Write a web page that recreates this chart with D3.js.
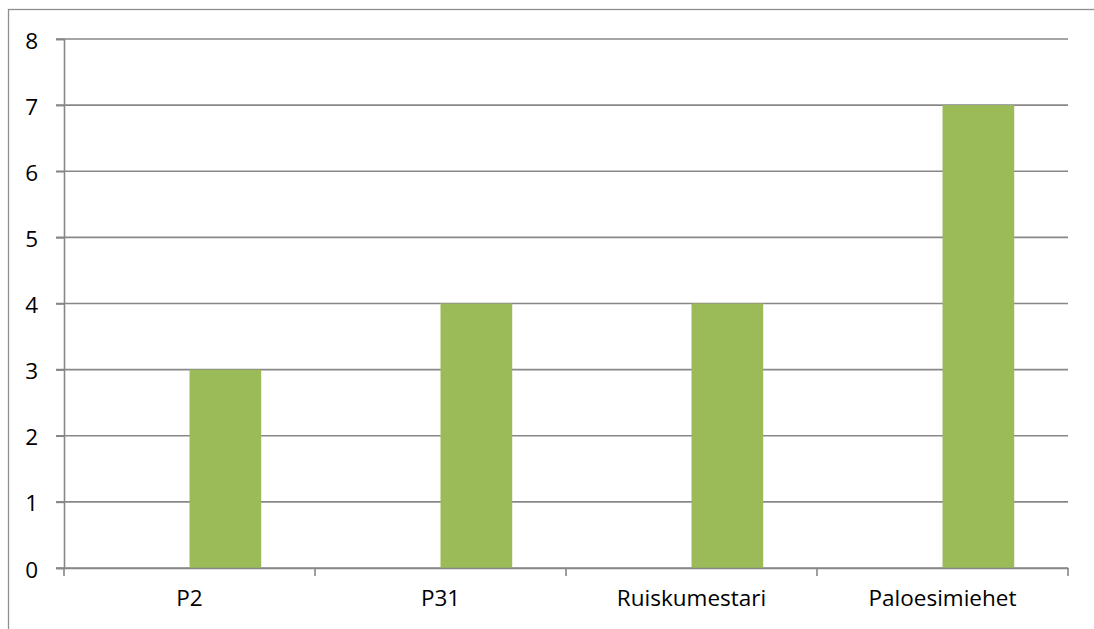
<!DOCTYPE html>
<html>
<head>
<meta charset="utf-8">
<script src="https://cdn.jsdelivr.net/npm/d3@7"></script>
<style>
  html, body { margin: 0; padding: 0; background: #fff; }
  svg { display: block; }
</style>
</head>
<body>
<svg id="chart" width="1094" height="629"></svg>
<script>
const categories = ["P2", "P31", "Ruiskumestari", "Paloesimiehet"];
const seriesNames = ["(tyhjä)", "Määrä"];
const seriesEmpty = [null, null, null, null];
const seriesValues = [3, 4, 4, 7];
const yTicks = [0, 1, 2, 3, 4, 5, 6, 7, 8];

(function () {
const svg = d3.select("#chart");
const W = 1094, H = 629;
const plotLeft = 64, plotRight = 1068, plotTop = 39, plotBottom = 568;
const font = "'Open Sans', 'Noto Sans', sans-serif";
const gridColor = "#878787";
const fs = 22.5;

// outer border (extends beyond right/bottom edge)
svg.append("rect")
  .attr("x", 8.5).attr("y", 9.5)
  .attr("width", W + 20).attr("height", H + 20)
  .attr("fill", "none").attr("stroke", "#8e8e8e").attr("stroke-width", 1.3);

const x0 = d3.scaleBand().domain(categories).range([plotLeft, plotRight]).paddingInner(0).paddingOuter(0);
// two series per category, Excel gap width 150%
const bw = x0.bandwidth() / 3.5;
const y = d3.scaleLinear().domain([0, 8]).range([plotBottom, plotTop]);

// gridlines
svg.append("g").selectAll("line").data(yTicks).join("line")
  .attr("x1", plotLeft - 8).attr("x2", plotRight)
  .attr("y1", d => y(d)).attr("y2", d => y(d))
  .attr("stroke", gridColor).attr("stroke-width", 1.6);

// bars (second series)
svg.append("g").selectAll("rect").data(categories).join("rect")
  .attr("x", d => x0(d) + x0.bandwidth() / 2)
  .attr("width", bw)
  .attr("y", (d, i) => y(seriesValues[i]))
  .attr("height", (d, i) => y(0) - y(seriesValues[i]))
  .attr("fill", "#9BBB59");

// y axis
const yAxis = d3.axisLeft(y).tickValues(yTicks).tickSize(8).tickPadding(18).tickFormat(d3.format("d"));
const gy = svg.append("g").attr("transform", `translate(${plotLeft},0)`).call(yAxis);
gy.select(".domain").attr("stroke", gridColor).attr("stroke-width", 1.6);
gy.selectAll(".tick line").attr("stroke", gridColor).attr("stroke-width", 1.6);
gy.selectAll("text").attr("font-family", font).attr("font-size", fs).attr("fill", "#000")
  .attr("dy", "0.4em");

// x axis
const xAxis = d3.axisBottom(x0).tickSize(0).tickPadding(22);
const gx = svg.append("g").attr("transform", `translate(0,${plotBottom})`).call(xAxis);
gx.select(".domain").attr("stroke", gridColor).attr("stroke-width", 1.6);
gx.selectAll("text").attr("font-family", font).attr("font-size", fs).attr("fill", "#000");
// category boundary ticks
const bounds = categories.map(c => x0(c)).concat([plotRight]);
gx.append("g").selectAll("line").data(bounds).join("line")
  .attr("x1", d => d).attr("x2", d => d)
  .attr("y1", 0).attr("y2", 8)
  .attr("stroke", gridColor).attr("stroke-width", 1.6);
})();
</script>
</body>
</html>
